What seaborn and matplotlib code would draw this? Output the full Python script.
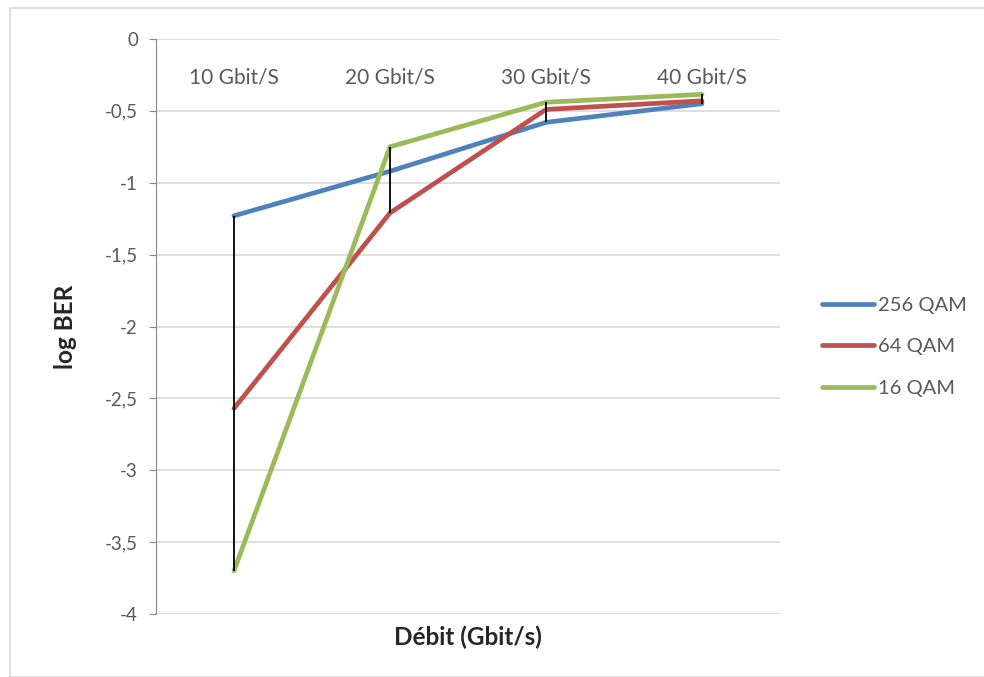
import numpy as np
import pandas as pd
import matplotlib
matplotlib.use("Agg")
import matplotlib.pyplot as plt
import seaborn as sns
from matplotlib.ticker import FuncFormatter
from matplotlib.patches import Rectangle

categories = ["10 Gbit/S", "20 Gbit/S", "30 Gbit/S", "40 Gbit/S"]
series_names = ["256 QAM", "64 QAM", "16 QAM"]
qam256 = [-1.23, -0.92, -0.58, -0.45]
qam64 = [-2.57, -1.21, -0.49, -0.43]
qam16 = [-3.70, -0.75, -0.44, -0.385]
colors = ["#4F81BD", "#C0504D", "#9BBB59"]

rows = []
for name, vals in zip(series_names, [qam256, qam64, qam16]):
    for c, v in zip(categories, vals):
        rows.append({"Débit": c, "logBER": v, "Modulation": name})
df = pd.DataFrame(rows)

sns.set_style("white")
plt.rcParams["font.family"] = ["Lato", "DejaVu Sans"]

fig = plt.figure(figsize=(9.84, 6.77), dpi=100)
fig.patches.append(Rectangle((10/984, 0), 1, 1 - 8/677, transform=fig.transFigure,
                             fill=False, edgecolor="#D9D9D9", lw=1.2))
ax = fig.add_axes([156/984, 1 - 614/677, (780 - 156)/984, (614 - 39)/677])

sns.lineplot(data=df, x="Débit", y="logBER", hue="Modulation", palette=colors,
             sort=False, lw=3.4, ax=ax, legend=True)

# high-low lines
arr = np.array([qam256, qam64, qam16])
ax.vlines(np.arange(len(categories)), arr.min(axis=0), arr.max(axis=0),
          color="black", lw=1.3, zorder=5)

ax.set_xlim(-0.5, len(categories) - 0.5)
ax.set_ylim(-4, 0)
ax.set_yticks(np.arange(-4, 0.01, 0.5))
ax.yaxis.set_major_formatter(FuncFormatter(lambda v, p: ("%g" % v).replace(".", ",")))
ax.grid(axis="y", color="#D9D9D9", lw=1.2)
ax.set_axisbelow(True)
for s in ["top", "right", "bottom"]:
    ax.spines[s].set_visible(False)
ax.spines["left"].set_color("#868686")
ax.tick_params(axis="y", left=True, length=5, color="#868686", labelsize=13.5,
               labelcolor="#595959", pad=8)
ax.set_xticks([])
for i, c in enumerate(categories):
    ax.text(i, -0.27, c, ha="center", va="center", fontsize=15, color="#595959")

ax.set_xlabel("Débit (Gbit/s)", fontsize=17.5, fontweight="bold", labelpad=8)
ax.set_ylabel("log BER", fontsize=17.5, fontweight="bold", labelpad=20)

ax.legend(frameon=False, loc="center left", bbox_to_anchor=(1.038, 0.4645),
          fontsize=14.5, handlelength=2.6, handletextpad=0.2, labelspacing=1.2,
          labelcolor="#595959")
for l in ax.get_legend().get_lines():
    l.set_linewidth(3.4)

fig.savefig("out.png", dpi=100)
